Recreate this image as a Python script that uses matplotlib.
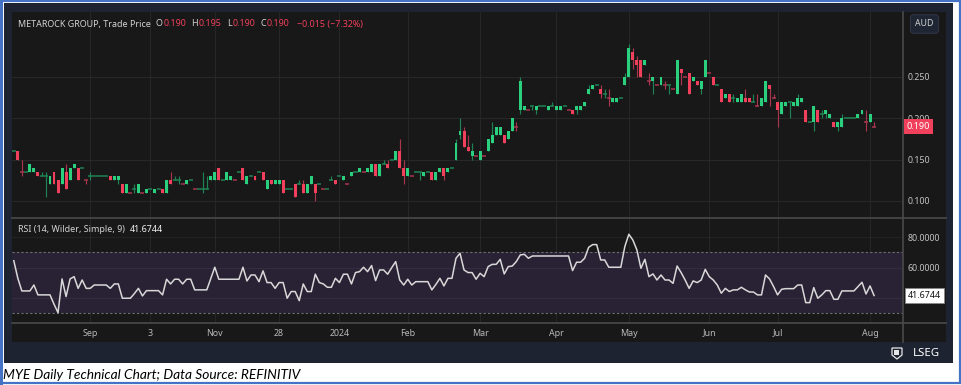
import matplotlib
matplotlib.use('Agg')
import matplotlib.pyplot as plt
from matplotlib.patches import Rectangle, Polygon
from matplotlib.lines import Line2D
import matplotlib.transforms as mtrans

# ---------------- data (prices in 0.001 AUD) ----------------
opens = [160,160,135,135,135,135,135,130,130,120,135,125,120,135,125,140,140,140,125,130,
         130,130,130,130,130,125,125,120,110,110,115,110,110,110,115,110,115,115,110,125,
         125,125,120,120,125,115,115,115,115,125,125,140,125,125,125,125,135,140,120,130,
         130,135,135,115,125,120,120,125,115,115,120,120,120,110,120,120,120,115,115,125,
         125,130,125,120,130,135,135,135,135,135,145,130,145,145,150,150,160,140,130,130,
         135,135,130,135,135,125,135,140,135,140,150,180,185,165,155,155,150,155,160,170,
         180,180,180,175,185,190,210,210,210,215,210,215,215,210,215,210,210,215,210,210,
         210,210,215,230,235,240,235,230,225,220,220,225,240,250,280,270,270,265,245,245,
         240,240,240,240,235,230,260,250,255,245,245,235,250,255,250,240,235,225,230,225,
         220,220,225,225,220,215,215,220,240,225,220,205,215,220,215,215,220,210,195,195,
         210,205,205,200,195,190,190,200,200,200,200,205,195,195,190]
highs = [160,160,150,135,145,140,135,135,135,130,135,125,140,145,140,145,140,140,125,135,
         130,130,130,130,130,130,130,120,120,110,120,120,110,115,115,115,115,115,125,135,
         130,130,120,125,125,115,115,135,130,130,135,140,125,135,130,125,135,140,130,130,
         130,135,135,125,125,125,125,125,115,115,120,125,125,120,130,120,120,115,115,130,
         125,130,130,120,135,135,140,135,140,145,145,145,150,150,150,160,175,150,140,130,
         135,135,135,135,135,135,140,140,140,140,175,200,190,180,170,155,160,155,175,195,
         190,190,180,185,200,195,250,215,210,215,215,215,215,215,220,215,215,215,210,210,
         215,215,220,240,240,240,240,235,235,225,225,225,255,290,285,275,270,270,255,250,
         240,250,245,240,235,270,260,250,255,250,245,245,270,255,250,240,235,230,230,230,
         225,230,235,225,230,230,225,245,240,230,220,220,220,220,220,230,225,210,195,215,
         210,210,210,205,195,195,205,200,200,200,205,210,210,205,195]
lows = [160,150,130,135,135,135,130,130,105,120,120,110,120,115,125,140,125,140,120,125,
        130,130,130,130,125,125,120,110,110,110,110,110,110,110,115,110,115,110,110,120,
        125,120,120,120,125,115,115,110,115,125,125,125,125,125,125,125,135,125,120,130,
        125,135,125,115,120,120,120,110,115,115,105,120,110,110,120,100,120,115,115,125,
        120,130,125,120,130,135,135,135,135,135,130,130,145,140,150,150,140,120,130,130,
        135,125,130,135,125,125,135,125,135,140,150,175,165,160,150,155,150,155,160,170,
        180,180,170,175,185,185,205,210,210,210,205,215,215,210,215,210,210,215,210,205,
        205,210,215,230,235,240,225,225,215,220,220,225,240,250,260,250,250,265,240,230,
        240,240,235,230,235,230,240,250,230,245,240,230,250,255,240,240,220,225,220,220,
        220,220,220,220,220,215,215,220,215,225,190,205,215,200,215,215,220,195,195,185,
        195,200,200,200,190,185,190,200,200,200,200,205,185,195,190]
closes = [160,150,135,135,145,140,130,130,130,130,120,110,140,115,140,145,125,140,125,130,
          130,130,130,130,125,130,130,110,120,110,115,120,110,115,115,115,115,110,125,120,
          125,125,120,125,125,115,115,115,115,130,135,125,125,135,130,125,135,125,130,130,
          125,135,125,125,120,125,125,110,115,115,105,120,110,120,130,110,120,115,115,125,
          120,130,130,120,135,135,140,135,140,145,130,145,145,140,150,160,140,130,140,130,
          135,135,135,135,125,135,140,130,140,140,170,185,165,160,160,155,160,155,175,180,
          190,190,170,185,200,190,245,215,210,215,215,215,215,215,215,215,215,215,210,205,
          215,215,220,235,240,240,230,230,225,225,225,225,250,285,270,265,250,270,245,250,
          240,250,240,240,235,270,255,250,230,250,240,245,270,255,240,240,220,230,220,225,
          225,230,220,220,220,215,225,245,235,225,210,220,220,220,220,225,225,195,195,215,
          195,205,210,205,190,195,200,200,200,200,205,210,195,205,190]
rsi = [64.6,53.0,44.7,44.7,44.7,48.6,42.1,42.1,42.1,42.1,36.0,30.4,52.6,41.0,52.6,54.1,46.4,51.9,46.4,46.4,
       48.6,48.6,48.6,48.6,46.4,49.3,49.3,39.9,39.9,39.9,43.0,46.4,41.4,44.9,44.9,44.9,44.9,42.1,52.4,49.3,
       52.4,52.4,49.3,52.4,52.4,45.4,45.4,45.4,45.4,52.8,60.3,52.4,52.4,52.4,52.4,52.4,52.4,60.3,51.3,55.2,
       55.2,50.8,57.9,50.2,50.2,46.4,50.2,50.2,39.9,44.3,44.3,38.3,49.3,44.3,44.3,55.7,50.2,49.3,47.1,47.1,
       53.0,50.2,55.7,55.7,49.3,56.8,57.4,60.3,57.4,61.4,51.5,58.5,58.5,55.7,60.0,64.0,51.9,48.6,52.4,48.6,
       50.8,50.8,50.8,50.8,45.4,49.0,53.0,48.0,53.0,53.0,66.2,69.5,58.5,56.8,56.8,52.4,56.3,54.1,60.7,62.2,
       62.2,65.5,55.9,60.7,61.1,64.0,68.4,68.8,66.2,67.7,67.7,67.7,67.7,67.7,67.7,67.7,67.7,67.7,67.7,58.1,
       63.6,63.6,66.2,73.4,75.2,75.2,65.1,65.1,60.3,60.3,60.3,60.3,73.9,82.0,78.2,71.7,59.6,65.5,54.1,55.9,
       51.9,55.2,51.9,51.9,49.7,61.1,56.8,51.9,46.4,51.3,50.2,51.9,58.9,54.1,51.9,48.6,43.2,46.4,44.3,45.4,
       45.4,47.1,45.4,44.0,44.0,42.1,42.1,55.2,52.6,47.6,42.1,45.8,46.2,46.2,46.2,48.6,48.6,37.0,37.0,46.9,
       39.9,42.1,44.9,44.9,39.2,39.2,44.7,44.7,44.7,44.7,47.6,50.4,42.7,48.0,41.6744]
price_ticks = [0.100, 0.150, 0.200, 0.250]
rsi_ticks = [60, 80]
rsi_grid = [40, 60, 80]
rsi_band = [30, 70]
month_labels = ['Sep', '3', 'Nov', '28', '2024', 'Feb', 'Mar', 'Apr', 'May', 'Jun', 'Jul', 'Aug']
month_pos = [19, 34, 50, 66, 81, 98, 116, 135, 153, 173, 190, 213]
ticker = 'METAROCK GROUP, Trade Price'
rsi_title = 'RSI (14, Wilder, Simple, 9)'
currency = 'AUD'
caption = 'MYE Daily Technical Chart; Data Source: REFINITIV'

assert len(opens) == len(highs) == len(lows) == len(closes) == len(rsi), (
    len(opens), len(highs), len(lows), len(closes), len(rsi))

o = [v / 1000 for v in opens]
h = [v / 1000 for v in highs]
l = [v / 1000 for v in lows]
c = [v / 1000 for v in closes]
N = len(c)

# ---------------- style ----------------
W, H, DPI = 962, 385, 100
FONT = ['Noto Sans', 'DejaVu Sans']
GREEN, RED = '#2bd07f', '#f0405b'
GREEN_W, RED_W = '#1f8353', '#a8364e'
TXT = '#d2d2d2'
SEP = '#4a4a4a'

fig = plt.figure(figsize=(W / DPI, H / DPI), dpi=DPI)
fig.patch.set_facecolor('white')


def fx(px):
    return px / W


def fy(py):
    return 1 - py / H


def add_rect(x0, y0, x1, y1, z=-10, **kw):
    r = Rectangle((fx(x0), fy(y1)), fx(x1) - fx(x0), fy(y0) - fy(y1),
                  transform=fig.transFigure, zorder=z, **kw)
    fig.add_artist(r)
    return r


def fig_line(x0, y0, x1, y1, **kw):
    ln = Line2D([fx(x0), fx(x1)], [fy(y0), fy(y1)], transform=fig.transFigure, **kw)
    fig.add_artist(ln)


# frames
add_rect(4, 3, 953, 363, fc='#1d2331', ec='none', z=-12)
add_rect(12, 12, 946, 342, fc='#181818', ec='none', z=-11)
add_rect(1, 1, 960, 383, fill=False, ec='#4472c4', lw=1.6, z=5)
fig_line(1.2, 1, 1.2, 383, color='#4472c4', lw=2.2, zorder=5)

# axes
L_, R_ = 12, 903
ax_p = fig.add_axes([fx(L_), fy(218), fx(R_) - fx(L_), fy(12) - fy(218)])
ax_r = fig.add_axes([fx(L_), fy(323), fx(R_) - fx(L_), fy(218) - fy(323)])
xmin, xmax = -0.45, N - 1 + 7.2
for ax in (ax_p, ax_r):
    ax.patch.set_visible(False)
    for s in ax.spines.values():
        s.set_visible(False)
    ax.set_xlim(xmin, xmax)
    ax.tick_params(axis='x', bottom=False, labelbottom=False)
    for p in month_pos:
        ax.axvline(p, color='#262626', lw=0.8, zorder=0)

# ---------------- price pane ----------------
ax_p.set_ylim(0.0794, 0.3286)
for t in price_ticks:
    ax_p.axhline(t, color='#282828', lw=0.8, zorder=0)
ax_p.set_yticks(price_ticks)
ax_p.set_yticklabels([f'{t:.3f}' for t in price_ticks])
ax_p.yaxis.tick_right()
ax_p.tick_params(axis='y', length=0, pad=3.6, labelsize=6.4, labelcolor='#c4c4c4')
for lab in ax_p.get_yticklabels():
    lab.set_family(FONT)

bw = 0.74
for i in range(N):
    up = c[i] > o[i] or (c[i] == o[i] and (i == 0 or c[i] >= c[i - 1]))
    wcol = GREEN_W if up else RED_W
    bcol = GREEN if up else RED
    if h[i] > l[i]:
        ax_p.vlines(i, l[i], h[i], color=wcol, lw=0.85, zorder=2)
    if o[i] != c[i]:
        lo, hi = min(o[i], c[i]), max(o[i], c[i])
        ax_p.add_patch(Rectangle((i - bw / 2, lo), bw, hi - lo, fc=bcol, ec='none', zorder=3))
    else:
        ax_p.hlines(c[i], i - 0.5, i + 0.5, color=wcol, lw=1.1, zorder=3)

# last price box
blend_p = mtrans.blended_transform_factory(ax_p.transAxes, ax_p.transData)
ax_p.text(1.0 + 4 / (R_ - L_), c[-1], f'{c[-1]:.3f}', transform=blend_p, ha='left', va='center',
          color='white', fontsize=6.5, family=FONT, zorder=10, clip_on=False,
          bbox=dict(boxstyle='square,pad=0.32', fc=RED, ec='none'))

# ---------------- RSI pane ----------------
ax_r.set_ylim(23.6, 92.7)
ax_r.axhspan(rsi_band[0], rsi_band[1], color='#292235', zorder=0, lw=0)
for g in rsi_grid:
    ax_r.axhline(g, color='#ffffff', alpha=0.05, lw=0.8, zorder=0.5)
for b in rsi_band:
    ax_r.axhline(b, color='#707070', lw=0.8, ls=(0, (2, 2)), zorder=1)
ax_r.plot(range(N), rsi, color='#d8d8d8', lw=1.1, zorder=3)
ax_r.set_yticks(rsi_ticks)
ax_r.set_yticklabels([f'{t:.4f}' for t in rsi_ticks])
ax_r.yaxis.tick_right()
ax_r.tick_params(axis='y', length=0, pad=3.6, labelsize=6.4, labelcolor='#c4c4c4')
for lab in ax_r.get_yticklabels():
    lab.set_family(FONT)
blend_r = mtrans.blended_transform_factory(ax_r.transAxes, ax_r.transData)
ax_r.text(1.0 + 5 / (R_ - L_), rsi[-1], f'{rsi[-1]:.4f}', transform=blend_r, ha='left', va='center',
          color='#111111', fontsize=6.4, family=FONT, zorder=10, clip_on=False,
          bbox=dict(boxstyle='square,pad=0.3', fc='white', ec='#888888', lw=0.5))

# x labels in the strip below the RSI pane
blend_x = mtrans.blended_transform_factory(ax_r.transData, ax_r.transAxes)
for p, lab in zip(month_pos, month_labels):
    ax_r.text(p, (323 - 333) / 105, lab, transform=blend_x, ha='center', va='center',
              color='#b8b8b8', fontsize=6.4, family=FONT, clip_on=False)

# separators
fig_line(12, 218, 946, 218, color=SEP, lw=1.2, zorder=4)
fig_line(12, 323, 946, 323, color=SEP, lw=1.2, zorder=4)
fig_line(903, 12, 903, 342, color=SEP, lw=1.2, zorder=4)

# ---------------- header texts ----------------
renderer = fig.canvas.get_renderer()


def chain(x_px, y_px, parts, size):
    x = x_px
    for s, color, weight, gap in parts:
        t = fig.text(fx(x), fy(y_px), s, color=color, fontsize=size, fontweight=weight,
                     va='center', ha='left', family=FONT, zorder=6)
        bb = t.get_window_extent(renderer)
        x = x + bb.width + gap
    return x


chg = c[-1] - c[-2]
pct = chg / c[-2] * 100
sgn = '\u2212' if chg < 0 else '+'
chain(17.5, 24, [
    (ticker, TXT, 'normal', 5.5),
    ('O', TXT, 'normal', 0.5), (f'{o[-1]:.3f}', RED, 'normal', 5.5),
    ('H', TXT, 'normal', 0.5), (f'{h[-1]:.3f}', RED, 'normal', 5.5),
    ('L', TXT, 'normal', 0.5), (f'{l[-1]:.3f}', RED, 'normal', 5.5),
    ('C', TXT, 'normal', 0.5), (f'{c[-1]:.3f}', RED, 'normal', 7),
    (f'{sgn}{abs(chg):.3f} ({sgn}{abs(pct):.2f}%)', RED, 'normal', 0),
], 6.45)

chain(17.5, 230, [
    (rsi_title, TXT, 'normal', 5),
    (f'{rsi[-1]:.4f}', '#f2f2f2', 'bold', 0),
], 6.45)

# currency box
fig.text(fx(924.5), fy(24), currency, ha='center', va='center', color='#d0d0d0', fontsize=6.3,
         family=FONT, zorder=6,
         bbox=dict(boxstyle='round,pad=0.55,rounding_size=0.35', fc='#1f2532', ec='#2d3446', lw=0.8))

# LSEG logo
fig.text(fx(926), fy(353), 'LSEG', ha='center', va='center', color='white', fontsize=8.2,
         fontweight='bold', family=FONT, zorder=6)
crest = Polygon([(fx(892), fy(348)), (fx(902), fy(348)), (fx(902), fy(355)), (fx(897), fy(359)),
                 (fx(892), fy(355))], closed=True, transform=fig.transFigure,
                fc='none', ec='#e6e6e6', lw=0.9, zorder=6)
fig.add_artist(crest)
fig.add_artist(Rectangle((fx(894.5), fy(355)), fx(5), fy(350) - fy(355), transform=fig.transFigure,
                         fc='#e6e6e6', ec='none', zorder=6))

# caption
cap = fig.text(fx(3), fy(375), caption, ha='left', va='center', color='black', fontsize=9,
               style='italic', family=['Lato', 'DejaVu Sans'], zorder=6)
wcap = cap.get_window_extent(renderer).width
cap.set_fontsize(9 * 297 / wcap)

fig.savefig('out.png', dpi=DPI, facecolor='white')
